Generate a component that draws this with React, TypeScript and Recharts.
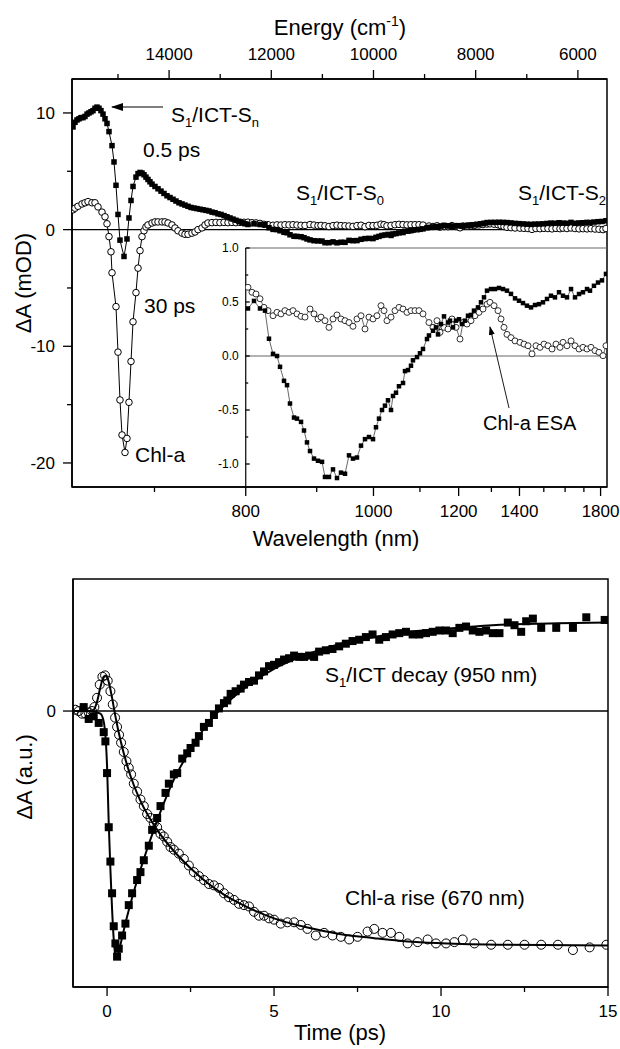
import React from 'react';
import { ComposedChart, Scatter, Line, XAxis, YAxis, ReferenceLine, ReferenceArea } from 'recharts';

const FONT = '"Liberation Sans", Arial, Helvetica, sans-serif';
const AXIS = { stroke: '#000', strokeWidth: 1.5 };

// spectra panel: x is photon energy (cm-1), high energy on the left
const E_MIN = 5430;
const E_MAX = 15900;
const E_INSET = 12500; // 800 nm, left edge of the inset

const ENERGY_TICKS = [15000, 14000, 13000, 12000, 11000, 10000, 9000, 8000, 7000, 6000];
const ENERGY_LABELS = [14000, 12000, 10000, 8000, 6000];
const WL_TICKS = [700, 800, 900, 1000, 1100, 1200, 1300, 1400, 1500, 1600, 1700, 1800];
const WL_LABELS = [800, 1000, 1200, 1400, 1800];
const MOD_TICKS = [10, 5, 0, -5, -10, -15, -20];
const MOD_LABELS = [10, 0, -10, -20];
const INSET_TICKS = [1, 0.75, 0.5, 0.25, 0, -0.25, -0.5, -0.75, -1];
const INSET_LABELS = [1, 0.5, 0, -0.5, -1];
const TIME_TICKS = [0, 2.5, 5, 7.5, 10, 12.5, 15];
const TIME_LABELS = [0, 5, 10, 15];

// 0.5 ps spectrum, visible part [cm-1, mOD]
const SQ_VIS = [
  [15880, 8.8], [15841, 9.2], [15802, 9.4], [15763, 9.5], [15724, 9.6], [15685, 9.6], [15646, 9.7],
  [15606, 9.9], [15567, 10.0], [15528, 10.1], [15489, 10.2], [15450, 10.4], [15411, 10.5], [15372, 10.4],
  [15333, 10.2], [15293, 9.9], [15254, 9.5], [15215, 9.1], [15176, 8.4], [15117, 7.2], [15078, 5.8],
  [15039, 3.8], [15000, 1.3], [14961, -0.9], [14882, -2.3], [14824, -0.8], [14785, 1.0], [14745, 2.5],
  [14706, 3.7], [14648, 4.5], [14608, 4.8], [14569, 4.9], [14530, 4.85], [14491, 4.7], [14452, 4.5],
  [14413, 4.3], [14374, 4.1], [14334, 3.9], [14276, 3.7], [14217, 3.5], [14158, 3.3], [14100, 3.1],
  [14041, 2.9], [13982, 2.75], [13923, 2.6], [13865, 2.45], [13806, 2.3], [13747, 2.2], [13689, 2.1],
  [13630, 2.0], [13571, 1.9], [13512, 1.85], [13454, 1.8], [13395, 1.75], [13336, 1.7], [13278, 1.65],
  [13219, 1.6], [13160, 1.5], [13101, 1.45], [13043, 1.35], [12984, 1.3], [12925, 1.2], [12867, 1.1],
  [12808, 1.0], [12749, 0.9], [12691, 0.8], [12632, 0.7], [12573, 0.6], [12514, 0.5],
];

// 30 ps spectrum, visible part [cm-1, mOD]
const CI_VIS = [
  [15880, 1.7], [15841, 1.84], [15783, 2.0], [15704, 2.2], [15646, 2.3], [15587, 2.4], [15509, 2.3],
  [15450, 2.3], [15391, 1.95], [15313, 1.5], [15254, 1.1], [15215, 0.5], [15176, -0.6], [15137, -1.9],
  [15117, -3.7], [15039, -6.6], [15000, -10.5], [14961, -14.6], [14921, -17.6], [14863, -19.1],
  [14824, -17.9], [14785, -14.8], [14745, -11.3], [14706, -7.9], [14648, -5.4], [14608, -3.3],
  [14569, -1.8], [14530, -0.6], [14491, -0.1], [14452, 0.23], [14413, 0.4], [14334, 0.57], [14276, 0.66],
  [14217, 0.66], [14139, 0.66], [14080, 0.66], [14021, 0.57], [13943, 0.4], [13884, 0.14], [13826, -0.1],
  [13747, -0.3], [13689, -0.4], [13630, -0.4], [13552, -0.3], [13493, -0.2], [13434, 0], [13356, 0.15],
  [13297, 0.4], [13239, 0.57], [13160, 0.6], [13082, 0.62], [13004, 0.6], [12925, 0.62], [12847, 0.6],
  [12769, 0.62], [12691, 0.6], [12612, 0.62], [12534, 0.63],
];

// 0.5 ps spectrum, near-IR part (also shown in the inset)
const SQ_NIR = [
  [12456, 0.44], [12338, 0.51], [12221, 0.44], [12123, 0.42], [12045, 0.16], [11966, 0.02], [11888, 0.0],
  [11829, -0.1], [11751, -0.23], [11692, -0.27], [11634, -0.44], [11555, -0.57], [11497, -0.58],
  [11418, -0.61], [11360, -0.69], [11301, -0.8], [11242, -0.88], [11164, -0.95], [11086, -0.97],
  [11007, -0.98], [10949, -1.12], [10871, -1.12], [10792, -1.05], [10714, -1.13], [10636, -1.08],
  [10557, -1.09], [10479, -0.92], [10401, -0.95], [10323, -0.94], [10244, -0.83], [10166, -0.77],
  [10088, -0.75], [10009, -0.77], [9951, -0.66], [9892, -0.58], [9833, -0.5], [9775, -0.46], [9716, -0.41],
  [9657, -0.5], [9618, -0.37], [9559, -0.34], [9501, -0.28], [9422, -0.25], [9383, -0.14], [9324, -0.13],
  [9266, -0.09], [9227, -0.04], [9148, -0.01], [9090, 0.025], [9031, 0.065], [8953, 0.157], [8914, 0.19],
  [8835, 0.234], [8777, 0.265], [8737, 0.2], [8679, 0.296], [8620, 0.367], [8542, 0.31], [8503, 0.327],
  [8444, 0.265], [8385, 0.327], [8326, 0.34], [8268, 0.296], [8209, 0.327], [8150, 0.373], [8092, 0.38],
  [8033, 0.42], [7955, 0.45], [7896, 0.497], [7837, 0.543], [7778, 0.605], [7700, 0.62], [7622, 0.62],
  [7544, 0.63], [7465, 0.62], [7387, 0.605], [7309, 0.575], [7230, 0.534], [7152, 0.512], [7074, 0.49],
  [6996, 0.466], [6917, 0.45], [6839, 0.472], [6761, 0.48], [6683, 0.497], [6604, 0.528], [6526, 0.558],
  [6448, 0.543], [6369, 0.59], [6291, 0.558], [6213, 0.543], [6134, 0.62], [6056, 0.543], [5978, 0.574],
  [5900, 0.59], [5821, 0.62], [5763, 0.605], [5685, 0.65], [5606, 0.68], [5528, 0.7], [5450, 0.76],
];

// 30 ps spectrum, near-IR part (also shown in the inset)
const CI_NIR = [
  [12456, 0.636], [12377, 0.59], [12299, 0.574], [12221, 0.53], [12143, 0.45], [12064, 0.42],
  [11966, 0.373], [11888, 0.404], [11810, 0.39], [11732, 0.42], [11653, 0.404], [11575, 0.42],
  [11497, 0.39], [11418, 0.367], [11340, 0.36], [11242, 0.435], [11164, 0.39], [11086, 0.343],
  [11027, 0.36], [10949, 0.327], [10871, 0.265], [10792, 0.343], [10714, 0.38], [10636, 0.343],
  [10557, 0.327], [10479, 0.31], [10401, 0.275], [10323, 0.343], [10244, 0.373], [10166, 0.25],
  [10088, 0.36], [10009, 0.343], [9931, 0.373], [9853, 0.466], [9794, 0.42], [9736, 0.327], [9657, 0.36],
  [9579, 0.42], [9501, 0.45], [9422, 0.435], [9344, 0.404], [9266, 0.42], [9187, 0.42], [9109, 0.42],
  [9031, 0.39], [8914, 0.31], [8835, 0.265], [8757, 0.327], [8698, 0.219], [8620, 0.265], [8542, 0.25],
  [8464, 0.343], [8385, 0.265], [8307, 0.157], [8248, 0.31], [8170, 0.296], [8092, 0.327], [8013, 0.373],
  [7935, 0.404], [7857, 0.435], [7778, 0.48], [7720, 0.497], [7641, 0.466], [7563, 0.42], [7504, 0.343],
  [7446, 0.265], [7387, 0.2], [7309, 0.17], [7230, 0.14], [7133, 0.126], [7054, 0.11], [6976, 0.095],
  [6898, 0.02], [6820, 0.095], [6741, 0.08], [6663, 0.11], [6585, 0.095], [6506, 0.065], [6428, 0.11],
  [6350, 0.08], [6291, 0.126], [6213, 0.095], [6134, 0.14], [6056, 0.095], [5978, 0.065], [5900, 0.08],
  [5821, 0.065], [5743, 0.08], [5665, 0.05], [5587, 0.034], [5508, 0.003], [5450, 0.095],
];

// kinetics [ps, a.u.]
const KIN_950 = [
  [-0.7, 0.03], [-0.55, -0.06], [-0.4, -0.04], [-0.25, -0.09], [-0.1, -0.16], [-0.05, -0.23], [0, -0.47],
  [0.05, -0.88], [0.1, -1.14], [0.15, -1.38], [0.2, -1.63], [0.25, -1.76], [0.3, -1.86], [0.35, -1.8],
  [0.45, -1.7], [0.55, -1.61], [0.65, -1.47], [0.75, -1.38], [0.9, -1.28], [1.0, -1.22], [1.1, -1.13],
  [1.25, -1.02], [1.35, -0.9], [1.5, -0.81], [1.6, -0.72], [1.75, -0.62], [1.85, -0.55], [2.0, -0.48],
  [2.1, -0.47], [2.25, -0.36], [2.4, -0.32], [2.5, -0.28], [2.65, -0.24], [2.75, -0.19], [2.9, -0.12],
  [3.05, -0.09], [3.2, -0.03], [3.35, 0.02], [3.5, 0.06], [3.6, 0.08], [3.7, 0.13], [3.85, 0.15], [4.0, 0.17],
  [4.1, 0.2], [4.25, 0.22], [4.4, 0.23], [4.55, 0.27], [4.7, 0.3], [4.85, 0.34], [5.0, 0.35], [5.15, 0.37],
  [5.3, 0.39], [5.45, 0.4], [5.6, 0.42], [5.75, 0.41], [5.9, 0.41], [6.05, 0.42], [6.2, 0.41], [6.35, 0.45],
  [6.55, 0.46], [6.75, 0.47], [6.95, 0.49], [7.15, 0.51], [7.35, 0.53], [7.55, 0.54], [7.75, 0.56],
  [7.95, 0.58], [8.15, 0.54], [8.35, 0.56], [8.55, 0.58], [8.75, 0.59], [8.95, 0.6], [9.15, 0.58],
  [9.35, 0.58], [9.55, 0.59], [9.75, 0.6], [9.95, 0.61], [10.15, 0.61], [10.35, 0.59], [10.55, 0.63],
  [10.75, 0.64], [10.95, 0.61], [11.15, 0.6], [11.35, 0.61], [11.55, 0.59], [11.75, 0.59], [12.0, 0.67],
  [12.2, 0.65], [12.4, 0.6], [12.55, 0.68], [12.75, 0.7], [13.0, 0.63], [13.45, 0.63], [13.95, 0.63],
  [14.35, 0.71], [14.9, 0.69],
];

const KIN_670 = [
  [-0.95, 0.01], [-0.85, 0.0], [-0.75, -0.02], [-0.65, -0.02], [-0.55, -0.01], [-0.45, 0.0], [-0.38, 0.03],
  [-0.3, 0.1], [-0.22, 0.2], [-0.14, 0.26], [-0.06, 0.27], [0.02, 0.23], [0.1, 0.15], [0.17, 0.05],
  [0.24, -0.05], [0.3, -0.12], [0.36, -0.18], [0.42, -0.24], [0.5, -0.31], [0.58, -0.38], [0.65, -0.43],
  [0.72, -0.48], [0.8, -0.55], [0.9, -0.61], [1.0, -0.67], [1.1, -0.72], [1.2, -0.78], [1.3, -0.81],
  [1.4, -0.85], [1.5, -0.88], [1.6, -0.93], [1.7, -0.95], [1.8, -0.99], [1.9, -1.03], [2.0, -1.05],
  [2.15, -1.08], [2.3, -1.12], [2.45, -1.17], [2.6, -1.22], [2.75, -1.25], [2.9, -1.28], [3.05, -1.31],
  [3.2, -1.32], [3.35, -1.34], [3.5, -1.38], [3.65, -1.41], [3.8, -1.43], [3.95, -1.46], [4.1, -1.47],
  [4.25, -1.48], [4.4, -1.52], [4.55, -1.55], [4.7, -1.55], [4.85, -1.57], [5.0, -1.58], [5.2, -1.61],
  [5.4, -1.6], [5.6, -1.6], [5.8, -1.62], [6.0, -1.65], [6.25, -1.7], [6.5, -1.68], [6.75, -1.7],
  [7.0, -1.71], [7.25, -1.73], [7.5, -1.71], [7.8, -1.67], [8.0, -1.65], [8.25, -1.68], [8.5, -1.68],
  [8.75, -1.71], [9.0, -1.76], [9.3, -1.75], [9.6, -1.73], [9.85, -1.76], [10.15, -1.76], [10.4, -1.75],
  [10.65, -1.73], [11.0, -1.76], [11.5, -1.77], [12.0, -1.77], [12.5, -1.77], [13.0, -1.77], [13.5, -1.77],
  [13.95, -1.81], [14.45, -1.79], [14.95, -1.77],
];

const FIT_950 = [
  [-0.95, 0], [-0.5, 0], [-0.2, -0.02], [-0.1, -0.08], [0, -0.42], [0.05, -0.85], [0.1, -1.2], [0.15, -1.5],
  [0.2, -1.73], [0.25, -1.85], [0.3, -1.86], [0.4, -1.77], [0.5, -1.66], [0.7, -1.46], [1.0, -1.2],
  [1.5, -0.83], [2.0, -0.52], [2.5, -0.29], [3.0, -0.1], [3.5, 0.04], [4.0, 0.15], [5.0, 0.32], [6.0, 0.43],
  [7.0, 0.51], [8.0, 0.56], [9.0, 0.6], [10.0, 0.62], [11.0, 0.64], [12.0, 0.655], [13.5, 0.665], [15, 0.67],
];

const FIT_670 = [
  [-0.95, 0], [-0.5, 0], [-0.4, 0.01], [-0.3, 0.07], [-0.2, 0.18], [-0.1, 0.26], [-0.03, 0.27], [0.05, 0.22],
  [0.15, 0.1], [0.25, -0.04], [0.4, -0.22], [0.6, -0.41], [0.8, -0.56], [1.0, -0.68], [1.5, -0.9],
  [2.0, -1.06], [2.5, -1.19], [3.0, -1.3], [3.5, -1.39], [4.0, -1.46], [5.0, -1.57], [6.0, -1.64],
  [7.0, -1.69], [8.0, -1.72], [9.0, -1.745], [10.0, -1.758], [12.0, -1.77], [15, -1.775],
];

const toXY = (arr: number[][]) => arr.map(([x, y]) => ({ x, y }));

// layout of the spectra panel (page pixels)
const TOP_L = 72;
const TOP_R = 607;
const INSET_L = TOP_L + ((E_MAX - E_INSET) * (TOP_R - TOP_L)) / (E_MAX - E_MIN);

type TickOpts = {
  side: 'left' | 'bottom' | 'top';
  labels: number[];
  fmt?: (v: number) => string;
  major: number;
  minor: number;
  gap: number;
  size: number;
  inward?: boolean;
};

const makeTick = (o: TickOpts) => (props: any) => {
  const { x, y, payload } = props;
  const v = payload.value;
  const isMajor = o.labels.some((l) => Math.abs(l - v) < 1e-6);
  const len = isMajor ? o.major : o.minor;
  const text = isMajor ? (o.fmt ? o.fmt(v) : String(v)) : '';
  if (o.side === 'left') {
    const dir = o.inward ? 1 : -1;
    return (
      <g>
        <line x1={x} y1={y} x2={x + dir * len} y2={y} stroke="#000" strokeWidth={1.3} />
        {text && (
          <text x={x - o.gap} y={y + o.size * 0.36} textAnchor="end" fontSize={o.size} fontFamily={FONT} fill="#000">
            {text}
          </text>
        )}
      </g>
    );
  }
  const dir = o.side === 'bottom' ? 1 : -1;
  return (
    <g>
      <line x1={x} y1={y} x2={x} y2={y + dir * len} stroke="#000" strokeWidth={1.3} />
      {text && (
        <text x={x} y={y + dir * o.gap} textAnchor="middle" fontSize={o.size} fontFamily={FONT} fill="#000">
          {text}
        </text>
      )}
    </g>
  );
};

const square = (s: number) => (p: any) =>
  p.cx == null ? <g /> : <rect x={p.cx - s / 2} y={p.cy - s / 2} width={s} height={s} fill="#000" />;
const ring = (r: number, fill: string, sw = 1) => (p: any) =>
  p.cx == null ? <g /> : <circle cx={p.cx} cy={p.cy} r={r} fill={fill} stroke="#000" strokeWidth={sw} />;

const wlTick = makeTick({
  side: 'bottom',
  labels: WL_LABELS.map((w) => 1e7 / w),
  fmt: (v) => String(Math.round(1e7 / v)),
  major: 9,
  minor: 5,
  gap: 30,
  size: 17,
});
const enTick = makeTick({ side: 'top', labels: ENERGY_LABELS, major: 9, minor: 5, gap: 19, size: 17 });
const modTick = makeTick({ side: 'left', labels: MOD_LABELS, major: 9, minor: 5, gap: 17, size: 17 });
const insetTick = makeTick({
  side: 'left',
  labels: INSET_LABELS,
  fmt: (v) => v.toFixed(1),
  major: 4,
  minor: 2.5,
  gap: 7,
  size: 12,
  inward: true,
});
const timeTick = makeTick({ side: 'bottom', labels: TIME_LABELS, major: 9, minor: 5, gap: 30, size: 17 });
const aTick = makeTick({ side: 'left', labels: [0], major: 10, minor: 5, gap: 17, size: 17 });

// text with a subscript after "S": pre + S + sub + rest
const SubLabel = ({ x, y, pre, sub, post, sub2 }: { x: number; y: number; pre: string; sub: string; post: string; sub2?: string }) => (
  <text x={x} y={y} fontSize={21}>
    {pre}
    <tspan fontSize={13} dy={5}>
      {sub}
    </tspan>
    <tspan dy={-5}>{post}</tspan>
    {sub2 && (
      <tspan fontSize={13} dy={5}>
        {sub2}
      </tspan>
    )}
  </text>
);

const SpectraChart = () => {
  const sq = toXY([...SQ_VIS, ...SQ_NIR]);
  const ci = toXY([...CI_VIS, ...CI_NIR]);
  return (
    <ComposedChart width={620} height={560} margin={{ top: 0, right: 620 - TOP_R, bottom: 0, left: 0 }}>
      <XAxis
        xAxisId="wl"
        dataKey="x"
        type="number"
        orientation="bottom"
        domain={[E_MIN, E_MAX]}
        reversed
        allowDataOverflow
        height={73}
        ticks={WL_TICKS.map((w) => 1e7 / w)}
        interval={0}
        tick={wlTick}
        tickLine={false}
        tickSize={0}
        tickMargin={0}
        axisLine={AXIS}
      />
      <XAxis
        xAxisId="en"
        dataKey="x"
        type="number"
        orientation="top"
        domain={[E_MIN, E_MAX]}
        reversed
        allowDataOverflow
        height={79}
        ticks={ENERGY_TICKS}
        interval={0}
        tick={enTick}
        tickLine={false}
        tickSize={0}
        tickMargin={0}
        axisLine={AXIS}
      />
      <YAxis
        yAxisId="mod"
        dataKey="y"
        type="number"
        domain={[-22.06, 12.91]}
        allowDataOverflow
        width={TOP_L}
        ticks={MOD_TICKS}
        interval={0}
        tick={modTick}
        tickLine={false}
        tickSize={0}
        tickMargin={0}
        axisLine={AXIS}
      />
      <ReferenceArea
        xAxisId="wl"
        yAxisId="mod"
        x1={E_MIN}
        x2={E_MAX}
        y1={-22.06}
        y2={12.91}
        fill="none"
        fillOpacity={0}
        stroke="#000"
        strokeWidth={1.5}
      />
      <ReferenceLine xAxisId="wl" yAxisId="mod" y={0} stroke="#000" strokeWidth={1.3} />
      <Scatter
        xAxisId="wl"
        yAxisId="mod"
        data={ci}
        dataKey="y"
        fill="#000"
        line={{ stroke: '#000', strokeWidth: 1 }}
        lineType="joint"
        shape={ring(3.3, '#fff')}
        isAnimationActive={false}
      />
      <Scatter
        xAxisId="wl"
        yAxisId="mod"
        data={sq}
        dataKey="y"
        fill="#000"
        line={{ stroke: '#000', strokeWidth: 1 }}
        lineType="joint"
        shape={square(5.5)}
        isAnimationActive={false}
      />
    </ComposedChart>
  );
};

const InsetChart = () => (
  <ComposedChart width={420} height={260} margin={{ top: 8, right: 620 - TOP_R, bottom: 13, left: 0 }}>
    <XAxis xAxisId="wl" dataKey="x" type="number" domain={[E_MIN, E_INSET]} reversed allowDataOverflow hide />
    <YAxis
      yAxisId="i"
      dataKey="y"
      type="number"
      domain={[-1.213, 1]}
      allowDataOverflow
      width={INSET_L - 200}
      ticks={INSET_TICKS}
      interval={0}
      tick={insetTick}
      tickLine={false}
      tickSize={0}
      tickMargin={0}
      axisLine={{ stroke: '#000', strokeWidth: 1.2 }}
    />
    <ReferenceLine xAxisId="wl" yAxisId="i" y={1} stroke="#666" strokeWidth={1.2} />
    <ReferenceLine xAxisId="wl" yAxisId="i" y={0} stroke="#666" strokeWidth={1.2} />
    <Scatter
      xAxisId="wl"
      yAxisId="i"
      data={toXY(CI_NIR)}
      dataKey="y"
      fill="#000"
      line={{ stroke: '#000', strokeWidth: 0.6 }}
      lineType="joint"
      shape={ring(3, '#fff', 0.8)}
      isAnimationActive={false}
    />
    <Scatter
      xAxisId="wl"
      yAxisId="i"
      data={toXY(SQ_NIR)}
      dataKey="y"
      fill="#000"
      line={{ stroke: '#000', strokeWidth: 0.6 }}
      lineType="joint"
      shape={square(4.5)}
      isAnimationActive={false}
    />
  </ComposedChart>
);

const KineticsChart = () => (
  <ComposedChart width={620} height={489} margin={{ top: 19, right: 12, bottom: 0, left: 0 }}>
    <XAxis
      xAxisId="t"
      dataKey="x"
      type="number"
      domain={[-1.02, 15]}
      allowDataOverflow
      height={62}
      ticks={TIME_TICKS}
      interval={0}
      tick={timeTick}
      tickLine={false}
      tickSize={0}
      tickMargin={0}
      axisLine={AXIS}
    />
    <YAxis
      yAxisId="a"
      dataKey="y"
      type="number"
      domain={[-2.09, 1]}
      allowDataOverflow
      width={73}
      ticks={[0]}
      interval={0}
      tick={aTick}
      tickLine={false}
      tickSize={0}
      tickMargin={0}
      axisLine={AXIS}
    />
    <ReferenceArea
      xAxisId="t"
      yAxisId="a"
      x1={-1.02}
      x2={15}
      y1={-2.09}
      y2={1}
      fill="none"
      fillOpacity={0}
      stroke="#000"
      strokeWidth={1.5}
    />
    <ReferenceLine xAxisId="t" yAxisId="a" y={0} stroke="#000" strokeWidth={1.5} />
    <Scatter xAxisId="t" yAxisId="a" data={toXY(KIN_950)} dataKey="y" fill="#000" shape={square(8)} isAnimationActive={false} />
    <Scatter xAxisId="t" yAxisId="a" data={toXY(KIN_670)} dataKey="y" fill="#000" shape={ring(4.5, 'none')} isAnimationActive={false} />
    <Line xAxisId="t" yAxisId="a" data={toXY(FIT_950)} dataKey="y" type="monotone" stroke="#000" strokeWidth={2} dot={false} isAnimationActive={false} />
    <Line xAxisId="t" yAxisId="a" data={toXY(FIT_670)} dataKey="y" type="monotone" stroke="#000" strokeWidth={2} dot={false} isAnimationActive={false} />
  </ComposedChart>
);

// titles and annotations
const Labels = () => (
  <svg width={620} height={1049} style={{ position: 'absolute', left: 0, top: 0, pointerEvents: 'none' }} fontFamily={FONT} fill="#000">
    <defs>
      <marker id="ah" markerUnits="userSpaceOnUse" markerWidth={12} markerHeight={8} refX={11} refY={4} orient="auto">
        <path d="M0,0 L12,4 L0,8 z" fill="#000" />
      </marker>
      <marker id="ah2" markerUnits="userSpaceOnUse" markerWidth={9} markerHeight={6} refX={8} refY={3} orient="auto">
        <path d="M0,0 L9,3 L0,6 z" fill="#000" />
      </marker>
    </defs>
    <text x={340} y={35} textAnchor="middle" fontSize={22}>
      Energy (cm
      <tspan fontSize={14} dy={-9}>
        -1
      </tspan>
      <tspan dy={9}>)</tspan>
    </text>
    <text x={336} y={546} textAnchor="middle" fontSize={22}>
      Wavelength (nm)
    </text>
    <text transform="translate(31,283) rotate(-90)" textAnchor="middle" fontSize={22}>
      ΔA (mOD)
    </text>
    <text x={340} y={1040} textAnchor="middle" fontSize={22}>
      Time (ps)
    </text>
    <text transform="translate(32,777) rotate(-90)" textAnchor="middle" fontSize={22}>
      ΔA (a.u.)
    </text>

    <line x1={163} y1={107} x2={112} y2={107} stroke="#000" strokeWidth={1.2} markerEnd="url(#ah)" />
    <SubLabel x={171} y={122} pre="S" sub="1" post="/ICT-S" sub2="n" />
    <text x={143} y={157} fontSize={21}>
      0.5 ps
    </text>
    <SubLabel x={296} y={200} pre="S" sub="1" post="/ICT-S" sub2="0" />
    <SubLabel x={518} y={200} pre="S" sub="1" post="/ICT-S" sub2="2" />
    <text x={144} y={313} fontSize={21}>
      30 ps
    </text>
    <text x={135} y={462} fontSize={21}>
      Chl-a
    </text>

    <line x1={509} y1={408} x2={490} y2={327} stroke="#000" strokeWidth={0.9} markerEnd="url(#ah2)" />
    <text x={483} y={430} fontSize={20}>
      Chl-a ESA
    </text>

    <SubLabel x={325} y={682} pre="S" sub="1" post="/ICT decay (950 nm)" />
    <text x={345} y={905} fontSize={21}>
      Chl-a rise (670 nm)
    </text>
  </svg>
);

export default function App() {
  return (
    <div style={{ position: 'absolute', left: 0, top: 0, width: 620, height: 1049, background: '#fff', fontFamily: FONT }}>
      <div style={{ position: 'absolute', left: 0, top: 0 }}>
        <SpectraChart />
      </div>
      <div
        style={{
          position: 'absolute',
          left: INSET_L + 1,
          top: 248.5,
          width: TOP_R - INSET_L - 2,
          height: 237.5,
          background: '#fff',
        }}
      />
      <div style={{ position: 'absolute', left: 200, top: 240 }}>
        <InsetChart />
      </div>
      <div style={{ position: 'absolute', left: 0, top: 560 }}>
        <KineticsChart />
      </div>
      <Labels />
    </div>
  );
}
